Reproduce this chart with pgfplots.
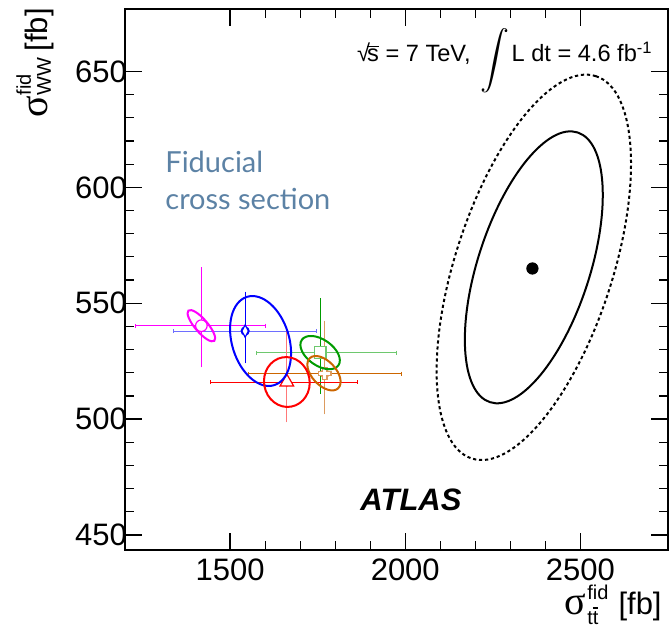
\documentclass[border=0pt]{standalone}
\usepackage{pgfplots}
\pgfplotsset{compat=1.18}
\usepackage{graphicx}
\usepackage{fontspec}
\setmainfont{Liberation Sans}
\newfontfamily\greekfont{Liberation Serif}
\newfontfamily\fidfont{Lato}
\definecolor{cMag}{RGB}{255,0,255}
\definecolor{cBlue}{RGB}{0,0,255}
\definecolor{cBlueL}{RGB}{110,110,255}
\definecolor{cRed}{RGB}{255,0,0}
\definecolor{cRedL}{RGB}{255,120,120}
\definecolor{cGreen}{RGB}{0,155,0}
\definecolor{cGreenL}{RGB}{110,200,110}
\definecolor{cOrange}{RGB}{204,102,0}
\definecolor{cOrangeL}{RGB}{220,155,95}
\definecolor{cFid}{RGB}{92,130,165}
\pgfdeclareplotmark{opencross}{%
  \pgfpathmoveto{\pgfqpoint{-0.35\pgfplotmarksize}{\pgfplotmarksize}}%
  \pgfpathlineto{\pgfqpoint{0.35\pgfplotmarksize}{\pgfplotmarksize}}%
  \pgfpathlineto{\pgfqpoint{0.35\pgfplotmarksize}{0.35\pgfplotmarksize}}%
  \pgfpathlineto{\pgfqpoint{\pgfplotmarksize}{0.35\pgfplotmarksize}}%
  \pgfpathlineto{\pgfqpoint{\pgfplotmarksize}{-0.35\pgfplotmarksize}}%
  \pgfpathlineto{\pgfqpoint{0.35\pgfplotmarksize}{-0.35\pgfplotmarksize}}%
  \pgfpathlineto{\pgfqpoint{0.35\pgfplotmarksize}{-\pgfplotmarksize}}%
  \pgfpathlineto{\pgfqpoint{-0.35\pgfplotmarksize}{-\pgfplotmarksize}}%
  \pgfpathlineto{\pgfqpoint{-0.35\pgfplotmarksize}{-0.35\pgfplotmarksize}}%
  \pgfpathlineto{\pgfqpoint{-\pgfplotmarksize}{-0.35\pgfplotmarksize}}%
  \pgfpathlineto{\pgfqpoint{-\pgfplotmarksize}{0.35\pgfplotmarksize}}%
  \pgfpathlineto{\pgfqpoint{-0.35\pgfplotmarksize}{0.35\pgfplotmarksize}}%
  \pgfpathclose
  \pgfusepathqfillstroke}
\newcommand{\sig}{{\fontsize{20}{20}\selectfont\greekfont σ}}
\newcommand{\scr}{\fontsize{10}{10.5}\selectfont}
\newcommand{\fb}{{\fontsize{15.5}{15.5}\selectfont [fb]}}
\pgfplotsset{
  myxbar/.style={only marks, mark=none, line width=0.5pt,
     error bars/x dir=both, error bars/x explicit,
     error bars/error bar style={line width=0.5pt},
     error bars/error mark options={rotate=90, mark size=1pt, line width=0.5pt}},
  myybar/.style={only marks, mark=none, line width=0.5pt,
     error bars/y dir=both, error bars/y explicit,
     error bars/error bar style={line width=0.5pt},
     error bars/error mark options={mark size=1pt, line width=0.5pt}},
}
\begin{document}
\begin{tikzpicture}
\useasboundingbox (-62.5pt,-40pt) rectangle (273pt,275pt);
\begin{axis}[
  at={(0,0)}, anchor=south west,
  scale only axis, width=271.5pt, height=270.5pt,
  xmin=1200, xmax=2750, ymin=443.5, ymax=677,
  xtick={1500,2000,2500}, ytick={450,500,550,600,650},
  minor x tick num=4, minor y tick num=4,
  tick align=inside, major tick length=8.5pt, minor tick length=4.3pt,
  tick style={black, line width=0.6pt},
  axis line style={line width=0.8pt},
  /pgf/number format/assume math mode=true,
  /pgf/number format/1000 sep={},
  tick label style={font=\fontsize{15.5}{15.5}\selectfont},
  xticklabel style={yshift=-1pt},
  yticklabel style={xshift=4.5pt},
  clip=false,
]
% magenta
\addplot[cMag, myxbar] coordinates {(1418,540.3) += (184,0) -= (189,0)};
\addplot[cMag, myybar] coordinates {(1418,540.3) += (0,24.3) -= (0,17.1)};
\addplot[only marks, mark=*, mark size=2.9pt, mark options={fill=white, draw=cMag, line width=0.6pt}] coordinates {(1418,540.3)};
\coordinate (eMag) at (axis cs:1418,540.3);
% blue
\addplot[cBlueL, myxbar] coordinates {(1543,538) += (204,0) -= (205,0)};
\addplot[cBlue, myybar] coordinates {(1543,538) += (0,16.2) -= (0,13.1)};
\addplot[only marks, mark=diamond*, mark size=3.1pt, mark options={xscale=0.7, fill=white, draw=cBlue, line width=0.6pt}] coordinates {(1543,538)};
\coordinate (eBlue) at (axis cs:1587,533.7);
% green
\addplot[cGreenL, myxbar] coordinates {(1757,528.7) += (218,0) -= (182,0)};
\addplot[cGreen, myybar] coordinates {(1757,528.7) += (0,22.6) -= (0,17.1)};
\addplot[only marks, mark=square*, mark size=2.9pt, mark options={fill=white, draw=cGreenL, line width=0.6pt}] coordinates {(1757,528.7)};
\coordinate (eGreen) at (axis cs:1757,528.7);
% orange
\addplot[cOrange, myxbar] coordinates {(1770.5,519.6) += (217.5,0) -= (218.5,0)};
\addplot[cOrangeL, myybar] coordinates {(1770.5,519.6) += (0,22) -= (0,16.7)};
\addplot[only marks, mark=opencross, mark size=3.1pt, mark options={fill=white, draw=cOrangeL, line width=0.6pt}] coordinates {(1770.5,519.6)};
\coordinate (eOrange) at (axis cs:1768,519.8);
% red
\addplot[cRed, myxbar] coordinates {(1662,516) += (202,0) -= (217,0)};
\addplot[cRedL, myybar] coordinates {(1662,516) += (0,21.6) -= (0,16.6)};
\addplot[only marks, mark=triangle*, mark size=3.9pt, mark options={fill=white, draw=cRed, line width=0.6pt}] coordinates {(1662,516)};
\coordinate (eRed) at (axis cs:1662,516);
% combined
\addplot[black, only marks, mark=*, mark size=2.85pt] coordinates {(2363,565)};
\coordinate (eAll) at (axis cs:2367,565.5);
\end{axis}
% contours
\draw[cMag, line width=1pt] (eMag) ellipse [x radius=9.95pt, y radius=3.2pt, rotate=-49.5];
\draw[cBlue, line width=1pt] (eBlue) ellipse [x radius=23.1pt, y radius=14.3pt, rotate=-73];
\draw[cGreen, line width=1pt] (eGreen) ellipse [x radius=11.15pt, y radius=6.5pt, rotate=-35];
\draw[cOrange, line width=1pt] (eOrange) ellipse [x radius=10.35pt, y radius=6pt, rotate=-47];
\draw[cRed, line width=1pt] (eRed) ellipse [x radius=12.5pt, y radius=11.4pt, rotate=100];
\draw[black, line width=1pt] (eAll) ellipse [x radius=70.9pt, y radius=28pt, rotate=72];
\draw[black, line width=1pt, dash pattern=on 1.6pt off 1.4pt] (eAll) ellipse [x radius=100.5pt, y radius=39.3pt, rotate=72];
% texts
\node[anchor=base west, inner sep=0pt, text=cFid, font=\fidfont\fontsize{14.5}{14.5}\selectfont] at (20pt,188.5pt) {Fiducial};
\node[anchor=base west, inner sep=0pt, text=cFid, font=\fidfont\fontsize{14.5}{14.5}\selectfont] at (20pt,170pt) {cross section};
\node[anchor=base, inner sep=0pt, font=\fontsize{15.5}{15.5}\selectfont\bfseries\itshape] at (143pt,19.5pt) {ATLAS};
\node[anchor=base east, inner sep=0pt, font=\fontsize{11.8}{11.8}\selectfont] at (264pt,244pt)
  {√\kern-0.12em$\overline{\hbox{s}}$ = 7 TeV,\hspace{5pt}\raisebox{-0.3em}{\scalebox{1.45}{$\displaystyle\int$}}\kern1pt L dt = 4.6 fb\textsuperscript{-1}};
\node[anchor=base east, inner sep=0pt, rotate=90] at (-38.5pt,271pt)
  {\sig\kern0.5pt\rlap{\raisebox{8.5pt}{\scr fid}}\raisebox{-1.5pt}{\scr WW}\hspace{3pt}\fb};
\node[anchor=base east, inner sep=0pt] at (268.5pt,-32.5pt)
  {\sig\kern0.5pt\rlap{\raisebox{-4.8pt}{\scr t\rlap{\raisebox{0.8em}{\rule{0.27em}{0.06em}}}t}}\raisebox{7.5pt}{\scr fid}\hspace{5pt}\fb};
\end{tikzpicture}
\end{document}
